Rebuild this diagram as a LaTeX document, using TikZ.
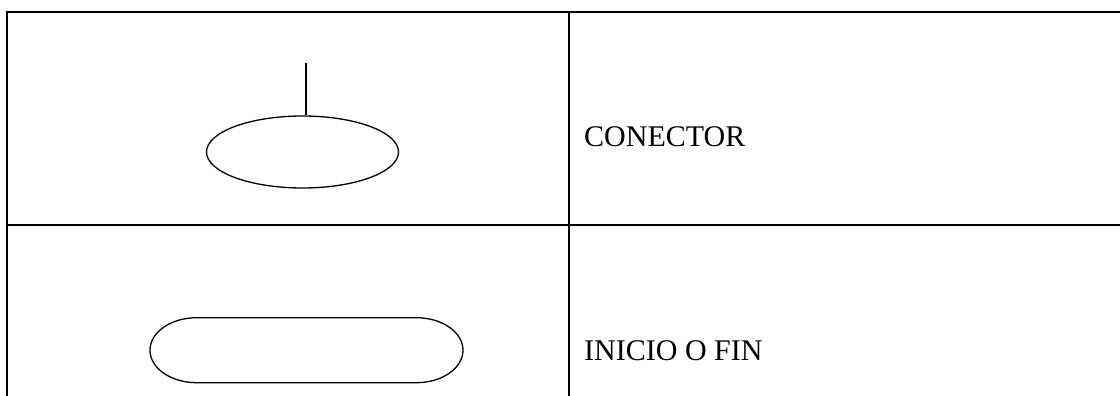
\documentclass[tikz,border=0pt]{standalone}
\usepackage{fontspec}
\setmainfont{Liberation Serif}
\usetikzlibrary{shapes.geometric}
\begin{document}
\begin{tikzpicture}[x=1pt,y=-1pt,
  rule/.style={line width=2pt},
  symbol/.style={draw,line width=1.3pt},
  label/.style={anchor=base west,inner sep=0pt,font=\fontsize{30}{36}\selectfont}]
  \useasboundingbox (0,0) rectangle (1120,396);
  % table rules
  \draw[rule] (7,396) -- (7,12) -- (1120,12);
  \draw[rule] (569,12) -- (569,396);
  \draw[rule] (7,225) -- (1120,225);
  % connector symbol
  \node[symbol,ellipse,minimum width=192pt,minimum height=72pt,inner sep=0pt] (conn) at (302.5,152) {};
  \coordinate (conntop) at (306,63);
  \draw[line width=1.3pt] (conntop) -- (conntop |- conn.north);
  % start / end terminal
  \draw[symbol] (196.7,317.7) -- (416.3,317.7)
    arc[start angle=-90,end angle=90,x radius=46.7,y radius=32.5]
    -- (196.7,382.7)
    arc[start angle=90,end angle=270,x radius=46.7,y radius=32.5] -- cycle;
  % labels
  \node[label] (lconn) at (584,146.7) {CONECTOR};
  \node[label] (lterm) at (584,360) {INICIO O FIN};
\end{tikzpicture}
\end{document}
